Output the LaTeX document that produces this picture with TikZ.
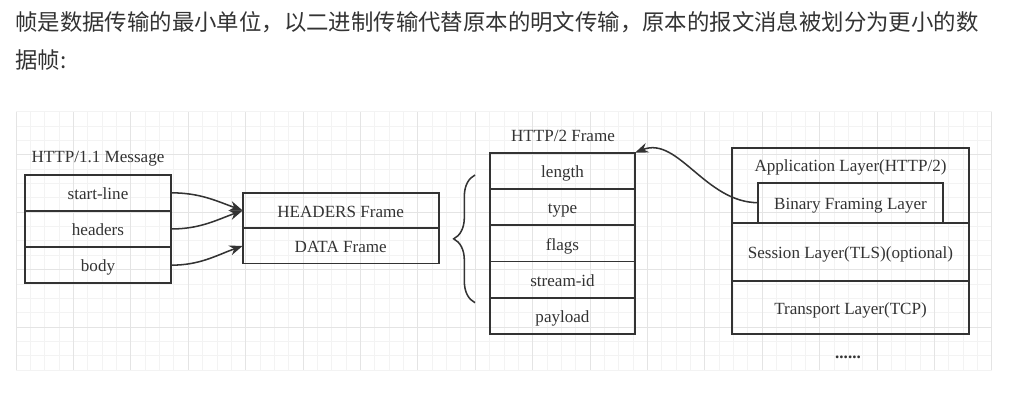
\documentclass[tikz,border=0pt]{standalone}
\usepackage{fontspec}
\setmainfont{Liberation Serif}
\newfontfamily\cjk{Noto Sans CJK SC}
\usepackage{tikz}
\usetikzlibrary{arrows.meta}
\usetikzlibrary{decorations.pathreplacing}
\usetikzlibrary{positioning}
\definecolor{ink}{HTML}{333333}
\definecolor{gridlight}{HTML}{F3F3F3}
\definecolor{griddark}{HTML}{E4E4E4}
\tikzset{
  field/.style={draw=ink, line width=1.45pt, inner sep=0pt, outer sep=0pt, text=ink,
    font=\fontsize{12.8}{15}\selectfont, text height=1em, text depth=0em},
  msgrow/.style={field, minimum width=109pt, minimum height=27.15pt},
  framerow/.style={field, minimum width=147pt, minimum height=26.5pt},
  h2row/.style={field, minimum width=108.75pt, minimum height=27.2pt},
  layer/.style={field, minimum width=178.2pt},
  caption/.style={text=ink, inner sep=0pt, font=\fontsize{12.8}{15}\selectfont},
  arrow/.style={draw=ink, line width=1.15pt, -{Stealth[length=10pt,width=7.5pt]}},
  gridline/.style={draw=gridlight, line width=0.6pt}
}

\begin{document}
\begin{tikzpicture}[x=0.75pt,y=0.75pt]
\useasboundingbox (0,0) rectangle (1013,-403);

% Grid
\foreach \k in {0,...,68}
  \draw[gridline] ({16+14.35*\k},-112) -- ({16+14.35*\k},-370);
\foreach \k in {0,...,18}
  \draw[gridline] (16,{-370+14.35*\k}) -- (992,{-370+14.35*\k});
\foreach \k in {0,4,...,68}
  \draw[gridline, draw=griddark] ({16+14.35*\k},-112) -- ({16+14.35*\k},-370);
\foreach \k in {3,7,...,15}
  \draw[gridline, draw=griddark] (16,{-370+14.35*\k}) -- (992,{-370+14.35*\k});

% Intro text
\node[anchor=west, inner sep=0pt, text=ink, font=\cjk\fontsize{16.8}{20}\selectfont] (intro1) at (15,-22.5)
  {帧是数据传输的最小单位，以二进制传输代替原本的明文传输，原本的报文消息被划分为更小的数};
\node[anchor=west, inner sep=0pt, text=ink, font=\cjk\fontsize{16.8}{20}\selectfont] (intro2) at (15,-60)
  {据帧:};

% HTTP/1.1 message
\node[caption] (msgtitle) at (98,-159) {HTTP/1.1 Message};
\node[msgrow] (startline) at (98,-192.8) {start-line};
\node[msgrow, below=0pt of startline] (headers) {headers};
\node[msgrow, below=0pt of headers] (body) {body};

% Frames
\node[framerow] (hframe) at (340.7,-210.5) {HEADERS Frame};
\node[framerow, below=0pt of hframe] (dframe) {DATA Frame};

% HTTP/2 frame
\node[caption] (h2title) at (563,-135.5) {HTTP/2 Frame};
\node[h2row] (len) at (562.5,-170.8) {length};
\node[h2row, below=0pt of len] (type) {type};
\node[h2row, below=0pt of type] (flags) {flags};
\node[h2row, below=0pt of flags] (sid) {stream-id};
\node[h2row, below=0pt of sid] (payload) {payload};

% Layers
\node[layer, minimum height=55.8pt] (app) at (850.5,-185.5) {};
\node[caption] (apptext) at (850.5,-167) {Application Layer(HTTP/2)};
\node[field, minimum width=138.3pt, minimum height=30pt, anchor=south] (binary) at (app.south) {Binary Framing Layer};
\node[layer, minimum height=43.5pt, below=0pt of app] (session) {Session Layer(TLS)(optional)};
\node[layer, minimum height=40pt, below=0pt of session] (transport) {Transport Layer(TCP)};
\node[caption, font=\bfseries\fontsize{12.8}{15}\selectfont] (more) at (848,-357) {......};

% Brace
\coordinate (btop) at (475,-175);
\coordinate (bbot) at (475,-302.7);
\draw[draw=ink, line width=1.15pt, decorate, decoration={brace, amplitude=16pt}] (bbot) -- (btop);

% Edges
\draw[arrow] (startline.east) to[out=0, in=160] (hframe.west);
\draw[arrow] (headers.east) to[out=0, in=200] (hframe.west);
\draw[arrow] (body.east) to[out=0, in=200] (dframe.west);
\draw[arrow] (binary.west) .. controls +(-53,0) and +(43,17) .. (len.north east);

\end{tikzpicture}
\end{document}
